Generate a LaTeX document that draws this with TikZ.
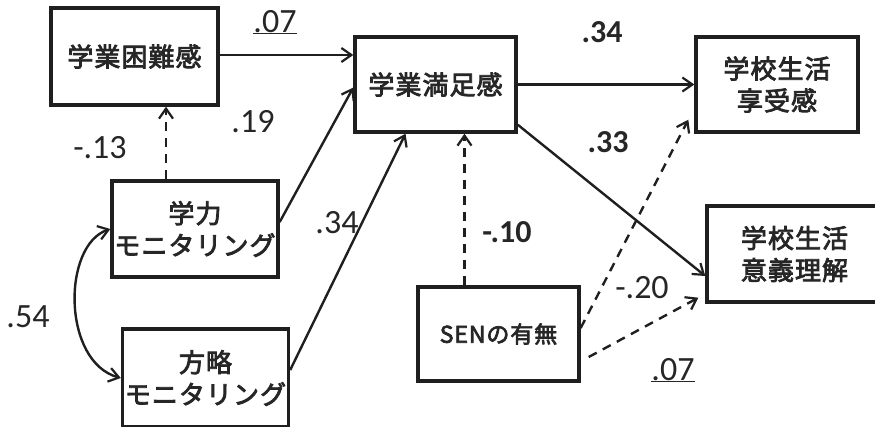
\documentclass[tikz,border=0pt]{standalone}
\usepackage{fontspec}
\setmainfont{Carlito}
\newfontfamily\jp{Noto Sans CJK JP}[LetterSpace=4, FakeBold=3]
\usetikzlibrary{arrows.meta,calc}
\begin{document}
\begin{tikzpicture}[x=1pt,y=-1pt,
  box/.style={draw=black!88, line width=3.4pt, minimum width=#1, inner sep=0pt,
    font=\jp\fontsize{26}{32}\selectfont, align=center, text=black!85},
  box/.default=162pt,
  link/.style={line width=2.4pt, draw=black!88, -{Straight Barb[length=10pt,width=14pt,line width=2.2pt]}},
  dlink/.style={link, dash pattern=on 9pt off 7pt},
  num/.style={inner sep=0pt, font=\fontsize{34}{34}\selectfont, text=black!85},
  bnum/.style={num, font=\bfseries\fontsize{32}{32}\selectfont}]
\useasboundingbox (0,0) rectangle (875,426);
\clip (0,0) rectangle (875,426);
\fill[white] (0,0) rectangle (875,426);

\node[box=167pt, minimum height=97pt] (kon) at (134.5,56.5) {学業困難感};
\node[box=161pt, minimum height=95pt] (man) at (435.5,84.5) {学業満足感};
\node[box=162pt, minimum height=95pt] (kyo) at (777,84.5) {学校生活\\享受感};
\node[box=166pt, minimum height=96pt] (gak) at (195,229) {学力\\モニタリング};
\node[box=166pt, minimum height=98pt] (hou) at (205.5,378) {方略\\モニタリング};
\node[box=161pt, minimum height=94pt, font=\jp\fontsize{23}{28}\selectfont] (sen) at (498.5,334) {SENの有無};
\node[box=175pt, minimum height=96pt] (igi) at (794.5,254) {学校生活\\意義理解};

% connectors
\draw[link] (kon.east |- 0,55) -- (man.west |- 0,55);
\draw[link] ([yshift=7pt]gak.east) -- ([yshift=-3pt]man.west);
\draw[link] ([yshift=8pt]hou.east) -- ([xshift=-30pt]man.south);
\draw[dlink] ([xshift=-34pt]sen.north) -- ([xshift=-34pt]sen.north |- man.south);
\draw[dlink] ([xshift=-29pt]gak.north) -- ([xshift=-29pt]gak.north |- kon.south);
\draw[link] (man.east) -- (kyo.west);
\draw[link] ([yshift=9pt]man.south east) -- ([yshift=-22pt]igi.west);
\draw[dlink] ([yshift=6pt]sen.east) -- ([shift={(-6pt,14pt)}]kyo.south west);
\draw[dlink] ([shift={(8pt,-23pt)}]sen.east) -- ([shift={(-7pt,6pt)}]igi.south west);
\draw[line width=2.4pt, draw=black!88, {Straight Barb[length=10pt,width=14pt,line width=2.2pt]}-{Straight Barb[length=10pt,width=14pt,line width=2.2pt]}]
  (gak.west) .. controls (62,245) and (62,362) .. (hou.west);

% labels
\node[num, anchor=base] (l1) at (275,32) {\underline{.07}};
\node[num] (l2) at (253,122) {.19};
\node[num] (l3) at (100,148) {-.13};
\node[num] (l4) at (28,317) {.54};
\node[num] (l5) at (337,223) {.34};
\node[bnum] (l6) at (602,32) {.34};
\node[bnum] (l7) at (608,142) {.33};
\node[bnum] (l8) at (507,232) {-.10};
\node[num] (l9) at (642,288) {-.20};
\node[num, anchor=base] (l10) at (673,380) {\underline{.07}};
\end{tikzpicture}
\end{document}
